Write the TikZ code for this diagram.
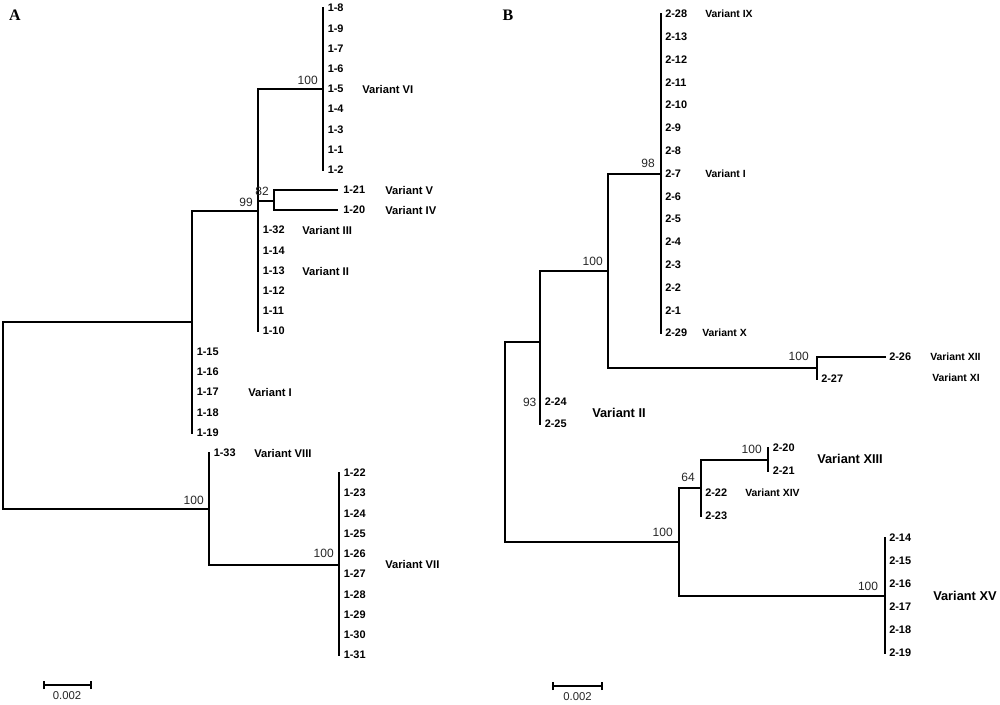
\documentclass[tikz,border=0pt]{standalone}
\usepackage{fontspec}
\setmainfont{Liberation Serif}
\setsansfont{Liberation Sans}
\begin{document}
\begin{tikzpicture}[x=0.75pt,y=-0.75pt,
  br/.style={line width=1.7pt,line cap=rect},
  leaf/.style={font=\sffamily\bfseries\fontsize{8.2}{9}\selectfont,anchor=west,inner sep=0pt},
  varA/.style={font=\sffamily\bfseries\fontsize{8.4}{9}\selectfont,anchor=west,inner sep=0pt},
  varB/.style={font=\sffamily\bfseries\fontsize{7.8}{9}\selectfont,anchor=west,inner sep=0pt},
  varbig/.style={font=\sffamily\bfseries\fontsize{9.6}{11}\selectfont,anchor=west,inner sep=0pt},
  boot/.style={font=\sffamily\fontsize{9}{10}\selectfont,text=black!85,anchor=south east,inner sep=0pt},
  panel/.style={font=\rmfamily\bfseries\fontsize{12}{14}\selectfont,inner sep=0pt},
  scl/.style={font=\sffamily\fontsize{8.5}{10}\selectfont,text=black!85,inner sep=0pt}]
\useasboundingbox (0,0) rectangle (1000,704);

% ================= Panel A =================
\node[panel] (labA) at (15,15) {A};
\coordinate (aR) at (3,415);
\coordinate (aN1) at (192,322);
\coordinate (aN2) at (258,211);
\coordinate (aN3) at (323,89);
\coordinate (aN4) at (274,201);
\coordinate (aN5) at (209,509);
\coordinate (aN6) at (339,565);

\foreach \t/\y in {1-8/8,1-9/28.5,1-7/49,1-6/69,1-5/89,1-4/109,1-3/129.5,1-1/150,1-2/170}
  \node[leaf] (A\t) at (327.5,\y) {\t};
\foreach \t/\y in {1-32/230,1-14/250.5,1-13/271,1-12/291,1-11/311,1-10/331}
  \node[leaf] (A\t) at (262.5,\y) {\t};
\foreach \t/\y in {1-15/352,1-16/372,1-17/392,1-18/412.5,1-19/432.5}
  \node[leaf] (A\t) at (196.5,\y) {\t};
\foreach \t/\y in {1-22/473,1-23/493,1-24/513.5,1-25/534,1-26/554,1-27/574,1-28/594.5,1-29/615,1-30/635,1-31/655}
  \node[leaf] (A\t) at (343.5,\y) {\t};
\node[leaf] (A1-33) at (213.5,453) {1-33};
\node[leaf] (A1-21) at (343,190) {1-21};
\node[leaf] (A1-20) at (343,210) {1-20};

% branches
\draw[br] (aR |- aN1) -- (aR |- aN5);
\draw[br] (aR |- aN1) -- (aN1);
\draw[br] (aR |- aN5) -- (aN5);
\draw[br] (aN1 |- aN2) -- (aN1 |- A1-19.west);
\draw[br] (aN1 |- aN2) -- (aN2);
\draw[br] (aN2 |- aN3) -- (aN2 |- A1-10.west);
\draw[br] (aN2 |- aN3) -- (aN3);
\draw[br] (aN2 |- aN4) -- (aN4);
\draw[br] (aN3 |- A1-8.west) -- (aN3 |- A1-2.west);
\draw[br] (aN4 |- A1-21.west) -- (aN4 |- A1-20.west);
\draw[br,shorten >=4.5pt] (aN4 |- A1-21.west) -- (A1-21.west);
\draw[br,shorten >=4.5pt] (aN4 |- A1-20.west) -- (A1-20.west);
\draw[br] (aN5 |- A1-33.west) -- (aN5 |- aN6);
\draw[br] (aN5 |- aN6) -- (aN6);
\draw[br] (aN6 |- A1-22.west) -- (aN6 |- A1-31.west);

% bootstrap values
\node[boot] (bA99) at ([xshift=-3.75pt,yshift=3pt]aN2) {99};
\node[boot] (bA100a) at ([xshift=-3.75pt,yshift=3pt]aN3) {100};
\node[boot] (bA82) at ([xshift=-3.75pt,yshift=3.5pt]aN4) {82};
\node[boot] (bA100b) at ([xshift=-3.75pt,yshift=3pt]aN5) {100};
\node[boot] (bA100c) at ([xshift=-3.75pt,yshift=5pt]aN6) {100};

% variant labels
\node[varA] (vA6) at (362,89) {Variant VI};
\node[varA] (vA5) at (385,190) {Variant V};
\node[varA] (vA4) at (385,210) {Variant IV};
\node[varA] (vA3) at (302,230) {Variant III};
\node[varA] (vA2) at (302,271) {Variant II};
\node[varA] (vA1) at (248,392) {Variant I};
\node[varA] (vA8) at (254,453) {Variant VIII};
\node[varA] (vA7) at (385,564) {Variant VII};

% scale bar A
\coordinate (sA1) at (44,685);
\coordinate (sA2) at (91,685);
\draw[line width=1.3pt] (sA1) -- (sA2);
\draw[line width=1.3pt] ([yshift=-3pt]sA1) -- ([yshift=3pt]sA1);
\draw[line width=1.3pt] ([yshift=-3pt]sA2) -- ([yshift=3pt]sA2);
\node[scl] (tA) at (67,696) {0.002};

% ================= Panel B =================
\node[panel] (labB) at (508,15) {B};
\coordinate (bR) at (505,440);
\coordinate (bN1) at (540,342);
\coordinate (bN2) at (608,271);
\coordinate (bN3) at (661,174);
\coordinate (bN4) at (817,368);
\coordinate (bN5) at (679,542);
\coordinate (bN6) at (701,488);
\coordinate (bN7) at (768,460);
\coordinate (bN8) at (885,596);

\foreach \t/\y in {2-28/14,2-13/36.8,2-12/59.6,2-11/82.4,2-10/105.2,2-9/128,2-8/150.8,2-7/173.6,2-6/196.4,2-5/219.2,2-4/242,2-3/264.8,2-2/287.6,2-1/310.4,2-29/333.2}
  \node[leaf] (B\t) at (665,\y) {\t};
\foreach \t/\y in {2-24/402,2-25/424}
  \node[leaf] (B\t) at (544.5,\y) {\t};
\node[leaf] (B2-26) at (889,357) {2-26};
\node[leaf] (B2-27) at (821,379) {2-27};
\foreach \t/\y in {2-20/448,2-21/470.5}
  \node[leaf] (B\t) at (772.5,\y) {\t};
\foreach \t/\y in {2-22/493,2-23/515.5}
  \node[leaf] (B\t) at (705,\y) {\t};
\foreach \t/\y in {2-14/538,2-15/561,2-16/584,2-17/607,2-18/630,2-19/652.5}
  \node[leaf] (B\t) at (889,\y) {\t};

% branches
\draw[br] (bR |- bN1) -- (bR |- bN5);
\draw[br] (bR |- bN1) -- (bN1);
\draw[br] (bR |- bN5) -- (bN5);
\draw[br] (bN1 |- bN2) -- (bN1 |- B2-25.west);
\draw[br] (bN1 |- bN2) -- (bN2);
\draw[br] (bN2 |- bN3) -- (bN2 |- bN4);
\draw[br] (bN2 |- bN3) -- (bN3);
\draw[br] (bN2 |- bN4) -- (bN4);
\draw[br] (bN3 |- B2-28.west) -- (bN3 |- B2-29.west);
\draw[br] (bN4 |- B2-26.west) -- (bN4 |- B2-27.west);
\draw[br,shorten >=3pt] (bN4 |- B2-26.west) -- (B2-26.west);
\draw[br] (bN5 |- bN6) -- (bN5 |- bN8);
\draw[br] (bN5 |- bN6) -- (bN6);
\draw[br] (bN5 |- bN8) -- (bN8);
\draw[br] (bN6 |- bN7) -- (bN6 |- B2-23.west);
\draw[br] (bN6 |- bN7) -- (bN7);
\draw[br] (bN7 |- B2-20.west) -- (bN7 |- B2-21.west);
\draw[br] (bN8 |- B2-14.west) -- (bN8 |- B2-19.west);

% bootstrap values
\node[boot] (bB100a) at ([xshift=-3.75pt,yshift=4pt]bN2) {100};
\node[boot] (bB98) at ([xshift=-4.5pt,yshift=4.5pt]bN3) {98};
\node[boot] (bB100b) at ([xshift=-6pt,yshift=5pt]bN4) {100};
\node[boot,anchor=east] (bB93) at ([xshift=-2.5pt]bN1 |- B2-24.west) {93};
\node[boot] (bB100c) at ([xshift=-4.5pt,yshift=3.5pt]bN5) {100};
\node[boot] (bB64) at ([xshift=-4.5pt,yshift=4.5pt]bN6) {64};
\node[boot] (bB100d) at ([xshift=-4.5pt,yshift=4.5pt]bN7) {100};
\node[boot] (bB100e) at ([xshift=-5pt,yshift=4pt]bN8) {100};

% variant labels
\node[varB] (vB9) at (705,14) {Variant IX};
\node[varB] (vB1) at (705,174) {Variant I};
\node[varB] (vB10) at (702,333) {Variant X};
\node[varB] (vB12) at (930,357) {Variant XII};
\node[varB] (vB11) at (932,378) {Variant XI};
\node[varbig] (vB2) at (592,413) {Variant II};
\node[varbig] (vB13) at (817,459) {Variant XIII};
\node[varB] (vB14) at (745,493) {Variant XIV};
\node[varbig] (vB15) at (933,596) {Variant XV};

% scale bar B
\coordinate (sB1) at (553,686);
\coordinate (sB2) at (602,686);
\draw[line width=1.3pt] (sB1) -- (sB2);
\draw[line width=1.3pt] ([yshift=-3pt]sB1) -- ([yshift=3pt]sB1);
\draw[line width=1.3pt] ([yshift=-3pt]sB2) -- ([yshift=3pt]sB2);
\node[scl] (tB) at (577.5,697) {0.002};
\end{tikzpicture}
\end{document}
